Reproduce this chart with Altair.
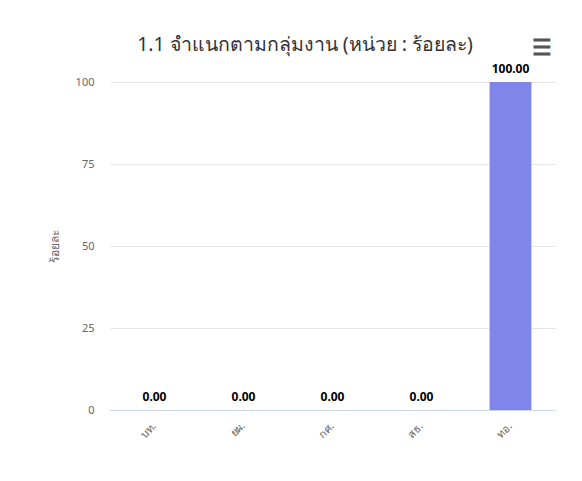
import altair as alt
import pandas as pd

categories = ["บท.", "ยผ.", "กศ.", "สธ.", "ทอ."]
values = [0.0, 0.0, 0.0, 0.0, 100.0]
labels = ["0.00", "0.00", "0.00", "0.00", "100.00"]
y_ticks = [0, 25, 50, 75, 100]
title_text = "1.1 จำแนกตามกลุ่มงาน (หน่วย : ร้อยละ)"

df = pd.DataFrame({"cat": categories, "val": values, "lab": labels})

FONT = "Noto Sans"

x_enc = alt.X(
    "cat:N",
    sort=categories,
    scale=alt.Scale(paddingInner=0.53, paddingOuter=0.265),
    axis=alt.Axis(
        title=None,
        labelAngle=-45,
        labelAlign="right",
        labelBaseline="middle",
        labelColor="#666666",
        labelFontSize=11,
        labelFont=FONT,
        labelPadding=14,
        ticks=False,
        domainColor="#ccd6eb",
        domainWidth=1,
        grid=False,
    ),
)
y_enc = alt.Y(
    "val:Q",
    scale=alt.Scale(domain=[0, 100], nice=False),
    axis=alt.Axis(
        title="ร้อยละ",
        titleColor="#666666",
        titleFontSize=12,
        titleFontWeight="normal",
        titleFont=FONT,
        titlePadding=14,
        values=y_ticks,
        labelColor="#666666",
        labelFontSize=11,
        labelFont=FONT,
        labelPadding=16,
        ticks=False,
        domain=False,
        gridColor="#e6e6e6",
        gridWidth=1,
    ),
)

bars = alt.Chart(df).mark_bar(color="#8085e9").encode(x=x_enc, y=y_enc)

text_outline = alt.Chart(df).mark_text(
    baseline="bottom", dy=-6, fontSize=12, fontWeight="bold", font=FONT,
    color="white", stroke="white", strokeWidth=2,
).encode(x=alt.X("cat:N", sort=categories), y="val:Q", text="lab:N")

text = alt.Chart(df).mark_text(
    baseline="bottom", dy=-6, fontSize=12, fontWeight="bold", font=FONT,
    color="#000000",
).encode(x=alt.X("cat:N", sort=categories), y="val:Q", text="lab:N")

menu = alt.Chart(pd.DataFrame({"t": ["☰"]})).mark_text(
    fontSize=22, fontWeight="bold", color="#555555", align="center", baseline="middle"
).encode(x=alt.value(432), y=alt.value(-34), text="t:N")

title = alt.Chart(pd.DataFrame({"t": [title_text]})).mark_text(
    fontSize=19.5, fontWeight="normal", color="#333333", font=FONT,
    align="center", baseline="middle"
).encode(x=alt.value(195), y=alt.value(-37), text="t:N")

chart = alt.layer(bars, text_outline, text, menu, title).properties(
    width=445,
    height=328,
    background="white",
    autosize=alt.AutoSizeParams(type="none"),
    padding={"left": 102, "top": 74, "right": 11, "bottom": 55},
).configure_view(strokeWidth=0, stroke="transparent")

chart.save("out.html", embed_options={"renderer": "svg", "actions": False})
